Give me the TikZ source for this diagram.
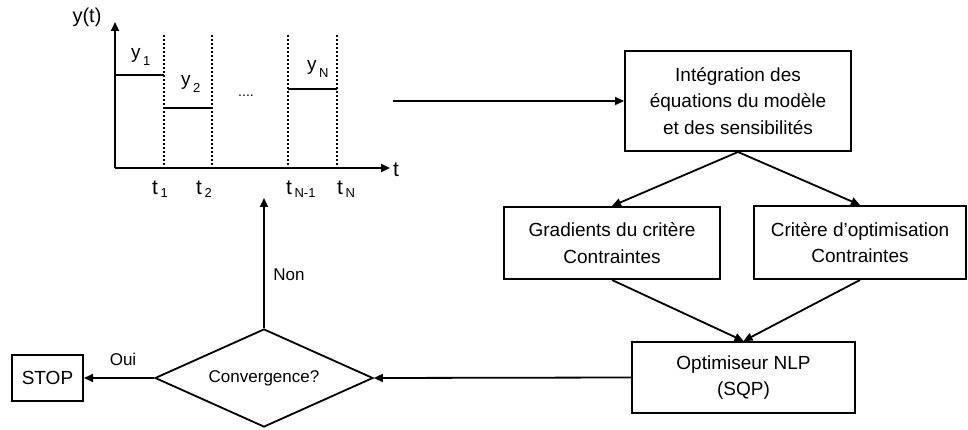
\documentclass[tikz,border=0pt]{standalone}
\usepackage{fontspec}
\setmainfont{Liberation Sans}
\usetikzlibrary{shapes.geometric,arrows.meta}
\newcommand{\basesub}[3]{{\fontsize{19}{19}\selectfont #1}\hspace{2.5pt}\raisebox{-#3}{\fontsize{13}{13}\selectfont #2}}
\begin{document}
\begin{tikzpicture}[x=1pt,y=-1pt,
  tip/.style={-{Triangle[length=9pt,width=8pt]}},
  conn/.style={line width=1.8pt,tip},
  box/.style={draw,line width=2pt,align=center,inner sep=0pt,font=\fontsize{19}{26.5}\selectfont},
  lbl/.style={inner sep=0pt,font=\fontsize{19}{19}\selectfont},
  sublbl/.style={inner sep=0pt,anchor=base west},
  dotline/.style={line width=2pt,dash pattern=on 2pt off 2pt},
  stepline/.style={line width=1.3pt}]
\useasboundingbox (0,0) rectangle (968,430);
% plot
\coordinate (o) at (115,168);
\coordinate (ytop) at (115,22);
\coordinate (xend) at (390,168);
\draw[line width=2pt,tip] (o) -- (ytop);
\draw[line width=2pt,tip] (o) -- (xend);
\foreach \xx/\nm in {164/d1,212/d2,288/d3,337/d4}{
  \coordinate (\nm a) at (\xx,35);
  \coordinate (\nm b) at (\xx,168);
  \draw[dotline] (\nm a) -- (\nm b);
}
\coordinate (s1a) at (115,75); \coordinate (s1b) at (164,75);
\coordinate (s2a) at (164,108); \coordinate (s2b) at (212,108);
\coordinate (s3a) at (288,89); \coordinate (s3b) at (337,89);
\draw[stepline] (s1a) -- (s1b);
\draw[stepline] (s2a) -- (s2b);
\draw[stepline] (s3a) -- (s3b);
\node[lbl,font=\fontsize{20}{20}\selectfont] (yt) at (87,17) {y(t)};
\node[lbl,font=\fontsize{21}{21}\selectfont] (tl) at (396,170) {t};
\node[sublbl] (y1) at (131,59) {\basesub{y}{1}{7pt}};
\node[sublbl] (y2) at (181,86) {\basesub{y}{2}{7pt}};
\node[sublbl] (yN) at (307,71) {\basesub{y}{N}{7pt}};
\node[lbl,font=\fontsize{14}{14}\selectfont] (dots) at (246,96) {....};
\node[sublbl] (t1) at (152,195) {\basesub{\fontsize{21}{21}\selectfont t}{1}{3pt}};
\node[sublbl] (t2) at (196,195) {\basesub{\fontsize{21}{21}\selectfont t}{2}{3pt}};
\node[sublbl] (tN1) at (286,195) {\basesub{\fontsize{21}{21}\selectfont t}{N-1}{3pt}};
\node[sublbl] (tN) at (337,195) {\basesub{\fontsize{21}{21}\selectfont t}{N}{3pt}};
% flow boxes
\node[box,minimum width=226pt,minimum height=100pt] (integ) at (738,101) {Intégration des\\équations du modèle\\et des sensibilités};
\node[box,minimum width=216pt,minimum height=72pt] (grad) at (612,243) {Gradients du critère\\Contraintes};
\node[box,minimum width=212pt,minimum height=73pt] (crit) at (860,242.5) {Critère d’optimisation\\Contraintes};
\node[box,minimum width=223pt,minimum height=71pt] (optim) at (743.5,377.5) {Optimiseur NLP\\(SQP)};
\node[draw,diamond,shape aspect=2.22,line width=1.8pt,inner sep=0pt,minimum width=218pt,minimum height=98pt,font=\fontsize{17}{17}\selectfont] (conv) at (264,378) {Convergence?};
\node[box,minimum width=71pt,minimum height=46pt] (stop) at (47.5,378) {STOP};
\coordinate (plotout) at (393,101);
\coordinate (nonend) at (264,198);
% connectors
\draw[conn] (plotout) -- (integ.west);
\draw[conn] (integ.south) -- (grad.north);
\draw[conn] (integ.south) -- (crit.north);
\draw[conn] (grad.south) -- (optim.north);
\draw[conn] (crit.south) -- (optim.north);
\draw[conn] (optim.west) -- (conv.east);
\draw[conn] (conv.north) -- (nonend);
\draw[conn] (conv.west) -- (stop.east);
\node[lbl,font=\fontsize{17}{17}\selectfont] (non) at (289,275) {Non};
\node[lbl,font=\fontsize{17}{17}\selectfont] (oui) at (123,359) {Oui};
\end{tikzpicture}
\end{document}
